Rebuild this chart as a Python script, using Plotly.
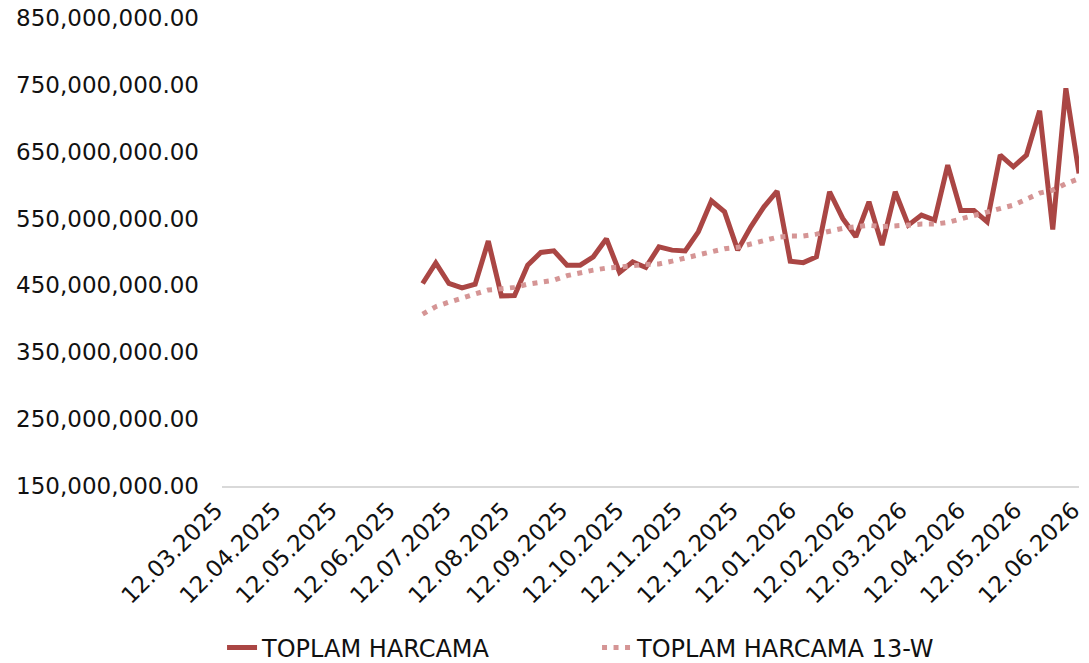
import pandas as pd
import plotly.graph_objects as go

# weekly dates, 27.06.2025 -> 12.06.2026
week_dates = pd.date_range("2025-06-27", periods=51, freq="7D")

# TOPLAM HARCAMA (millions)
toplam_harcama = [
    452.9, 483.8, 452.9, 446.4, 451.9, 516.3, 434.4, 434.8, 480.3, 499.3,
    501.7, 480.3, 480.3, 492.8, 519.7, 469.4, 485.3, 476.9, 507.7, 502.8,
    501.5, 530.2, 576.6, 560.1, 502.8, 537.7, 567.6, 591.1, 486.3, 484.1,
    492.8, 590.1, 550.2, 522.7, 575.1, 510.3, 590.1, 540.2, 555.2, 547.7,
    630.0, 561.9, 561.9, 545.2, 645.0, 627.5, 645.0, 711.3, 533.8, 744.8,
    617.6,
]

# TOPLAM HARCAMA 13-W (millions)
toplam_harcama_13w = [
    407.0, 418.2, 425.0, 430.9, 436.9, 443.2, 444.9, 447.1, 451.9, 454.1,
    457.9, 464.6, 469.4, 472.9, 475.9, 476.9, 479.4, 481.4, 482.1, 486.3,
    490.8, 495.3, 500.5, 505.0, 507.0, 511.5, 517.3, 522.0, 524.0, 524.0,
    526.7, 531.7, 535.4, 537.7, 539.8, 538.0, 538.3, 540.2, 541.7, 541.7,
    544.3, 549.2, 555.2, 560.0, 563.9, 570.1, 579.1, 588.1, 592.6, 602.3,
    609.8,
]

y_ticks = [150, 250, 350, 450, 550, 650, 750, 850]

FONT = "DejaVu Sans"
TEXT_COLOR = "#111111"

# the page body keeps its 8px default margin, so the figure is drawn 8px in
W, H = 1081, 655

fig = go.Figure()
fig.add_trace(go.Scatter(
    x=week_dates, y=[v * 1e6 for v in toplam_harcama],
    mode="lines", name="TOPLAM HARCAMA",
    line=dict(color="#AA4644", width=5),
))
fig.add_trace(go.Scatter(
    x=week_dates, y=[v * 1e6 for v in toplam_harcama_13w],
    mode="lines", name="TOPLAM HARCAMA 13-W",
    line=dict(color="#D59595", width=5, dash="5px,6.5px"),
))

fig.update_layout(
    width=W, height=H,
    margin=dict(l=214, r=10, t=10, b=177, autoexpand=False),
    paper_bgcolor="white", plot_bgcolor="white",
    font=dict(family=FONT, color=TEXT_COLOR, size=23),
    showlegend=True,
    legend=dict(
        orientation="h", xref="container", x=0.198, xanchor="left",
        yref="container", y=1 - 640 / H, yanchor="middle",
        font=dict(family=FONT, size=24, color=TEXT_COLOR),
        entrywidth=330, entrywidthmode="pixels",
    ),
    xaxis=dict(
        type="date",
        range=["2025-03-12", "2026-06-12"],
        tick0="2025-03-12", dtick="M1", tickformat="%d.%m.%Y",
        tickangle=-45,
        tickfont=dict(family=FONT, size=23, color=TEXT_COLOR),
        showgrid=False, zeroline=False,
        showline=True, linecolor="#D9D9D9", linewidth=1.5,
        ticks="", automargin=False, ticklabeloverflow="allow",
        ticklabelshift=-6,
    ),
    yaxis=dict(
        range=[150e6, 850e6],
        tickvals=[v * 1e6 for v in y_ticks],
        tickformat=",.2f",
        tickfont=dict(family=FONT, size=23, color=TEXT_COLOR),
        showgrid=False, zeroline=False, showline=False,
        ticklabelstandoff=22, automargin=False, ticklabeloverflow="allow",
    ),
)

fig.write_html("out.html")
